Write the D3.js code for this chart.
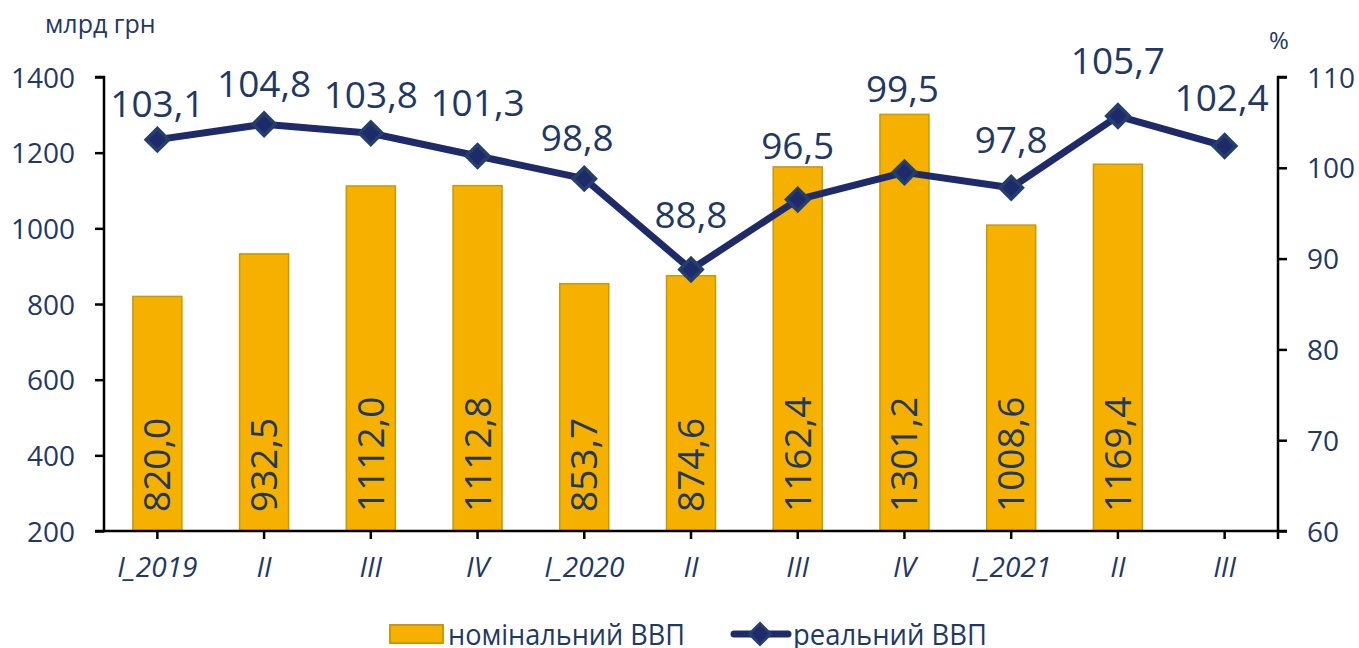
<!DOCTYPE html>
<html>
<head>
<meta charset="utf-8">
<script src="https://cdn.jsdelivr.net/npm/d3@7"></script>
<style>
  body { margin: 0; background: #fff; }
  svg { font-family: "Open Sans", "Noto Sans", sans-serif; }
</style>
</head>
<body>
<svg id="chart" width="1359" height="648"></svg>
<script>
// kvartaly
const kvartaly = ["I_2019", "II", "III", "IV", "I_2020", "II", "III", "IV", "I_2021", "II", "III"];
// nominalni VVP, mlrd grn
const nominalni = [820.0, 932.5, 1112.0, 1112.8, 853.7, 874.6, 1162.4, 1301.2, 1008.6, 1169.4, null];
// realny VVP, %
const realny = [103.1, 104.8, 103.8, 101.3, 98.8, 88.8, 96.5, 99.5, 97.8, 105.7, 102.4];
const levyTicks = [200, 400, 600, 800, 1000, 1200, 1400];
const pravyTicks = [60, 70, 80, 90, 100, 110];

// rucne posunute popisky cary (jako v originale), v pixelech nad bodem
const popiskyNad = [23, 27, 25, 40, 28, 41, 41, 70, 35, 42, 35];
const popiskyDx = [0, 0, 0, 0, -7, 0, 0, -2, 0, 0, -3];

const textColor = "#1f3864";
const lineColor = "#1f2a6b";
const markerStroke = "#243f6b";
const barColor = "#f5b000";
const barStroke = "#c99a06";

const svg = d3.select("#chart");
const pLeft = 104, pRight = 1278, pTop = 77, pBottom = 531;

const x = d3.scaleBand().domain(d3.range(kvartaly.length)).range([pLeft, pRight]);
const yL = d3.scaleLinear().domain([200, 1400]).range([pBottom, pTop]);
const yR = d3.scaleLinear().domain([60, 110]).range([pBottom, pTop]);
const cx = i => x(i) + x.bandwidth() / 2;
const fmt = v => v.toFixed(1).replace(".", ",");

// sloupce
const barW = 49;
const barData = nominalni.map((v, i) => ({ v, i })).filter(d => d.v !== null);
svg.append("g").selectAll("rect")
  .data(barData)
  .enter().append("rect")
  .attr("x", d => cx(d.i) - barW / 2)
  .attr("y", d => yL(d.v))
  .attr("width", barW)
  .attr("height", d => pBottom - yL(d.v))
  .attr("fill", barColor)
  .attr("stroke", barStroke)
  .attr("stroke-width", 1.5);

// popisky sloupcu
svg.append("g").selectAll("text")
  .data(barData)
  .enter().append("text")
  .attr("transform", d => `translate(${cx(d.i) + 13},${pBottom - 19}) rotate(-90)`)
  .attr("fill", textColor)
  .attr("font-size", 37)
  .text(d => fmt(d.v));

// osy
const axisL = d3.axisLeft(yL).tickValues(levyTicks).tickSize(9).tickFormat(d => d);
const gL = svg.append("g").attr("transform", `translate(${pLeft},0)`).call(axisL);
const axisR = d3.axisRight(yR).tickValues(pravyTicks).tickSize(9).tickFormat(d => d);
const gR = svg.append("g").attr("transform", `translate(${pRight},0)`).call(axisR);
const axisB = d3.axisBottom(x).tickSize(8).tickFormat(i => kvartaly[i]);
const gB = svg.append("g").attr("transform", `translate(0,${pBottom})`).call(axisB);

[gL, gR, gB].forEach(g => {
  g.select(".domain").attr("stroke", "#000").attr("stroke-width", 2.5);
  g.selectAll(".tick line").attr("stroke", "#000").attr("stroke-width", 2.5);
  g.selectAll(".tick text").attr("fill", textColor).attr("font-size", 28)
    .attr("font-family", "'Open Sans', sans-serif");
});
gL.select(".domain").attr("d", `M-9,${pBottom}H0V${pTop}H-9`);
gR.select(".domain").attr("d", `M9,${pBottom}H0V${pTop}H9`);
gB.select(".domain").attr("d", `M${pLeft},0H${pRight}V8`);
gL.selectAll(".tick text").attr("x", -29).attr("dy", "0.36em");
gR.selectAll(".tick text").attr("x", 29).attr("dy", "0.36em");
gB.selectAll(".tick text").attr("y", 26).attr("font-style", "italic");

// cara
const line = d3.line().x((d, i) => cx(i)).y(d => yR(d));
svg.append("path").datum(realny)
  .attr("d", line)
  .attr("fill", "none")
  .attr("stroke", lineColor)
  .attr("stroke-width", 7)
  .attr("stroke-linejoin", "round");

svg.append("g").selectAll("path")
  .data(realny).enter().append("path")
  .attr("d", d3.symbol().type(d3.symbolDiamond2).size(320))
  .attr("transform", (d, i) => `translate(${cx(i)},${yR(d)})`)
  .attr("fill", lineColor)
  .attr("stroke", markerStroke)
  .attr("stroke-width", 3.5);

svg.append("g").selectAll("text")
  .data(realny).enter().append("text")
  .attr("x", (d, i) => cx(i) + popiskyDx[i])
  .attr("y", (d, i) => yR(d) - popiskyNad[i])
  .attr("text-anchor", "middle")
  .attr("fill", textColor)
  .attr("font-size", 37)
  .text(d => fmt(d));

// popisky os
svg.append("text").attr("x", 45).attr("y", 33).attr("fill", textColor)
  .attr("font-size", 25).text("млрд грн");
svg.append("text").attr("x", 1269).attr("y", 49).attr("fill", textColor)
  .attr("font-size", 24).text("%");

// legenda
const lg = svg.append("g");
lg.append("rect").attr("x", 390).attr("y", 625).attr("width", 53).attr("height", 18)
  .attr("fill", barColor).attr("stroke", barStroke).attr("stroke-width", 2);
lg.append("text").attr("x", 448).attr("y", 645).attr("fill", textColor)
  .attr("font-size", 29).attr("textLength", 237).attr("lengthAdjust", "spacingAndGlyphs")
  .text("номінальний ВВП");
lg.append("line").attr("x1", 734).attr("x2", 788).attr("y1", 634).attr("y2", 634)
  .attr("stroke", lineColor).attr("stroke-width", 7).attr("stroke-linecap", "round");
lg.append("path").attr("d", d3.symbol().type(d3.symbolDiamond2).size(280))
  .attr("transform", "translate(760,634)")
  .attr("fill", lineColor).attr("stroke", markerStroke).attr("stroke-width", 3);
lg.append("text").attr("x", 793).attr("y", 645).attr("fill", textColor)
  .attr("font-size", 29).attr("textLength", 194).attr("lengthAdjust", "spacingAndGlyphs")
  .text("реальний ВВП");
</script>
</body>
</html>
